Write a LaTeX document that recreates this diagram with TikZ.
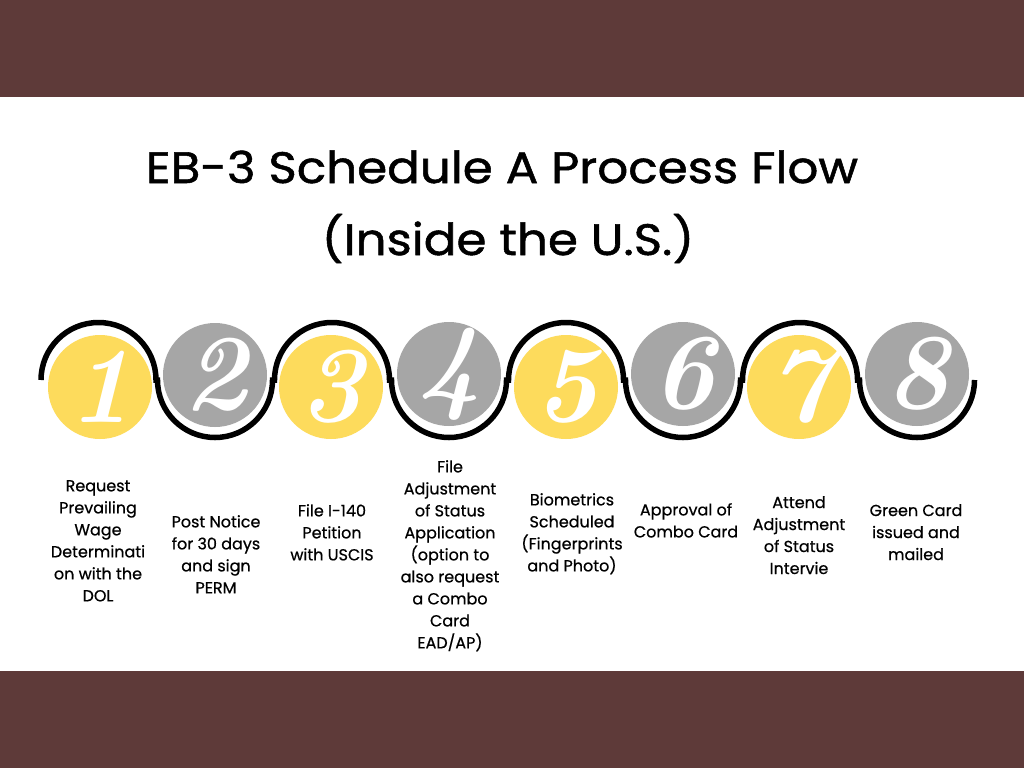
\documentclass[tikz,border=0pt]{standalone}
\usepackage{fontspec}
\setmainfont{Poppins}
\definecolor{band}{RGB}{94,58,57}
\definecolor{yel}{RGB}{253,219,92}
\definecolor{gry}{RGB}{166,166,166}
\newfontfamily\digitfont{Latin Modern Roman}
\newfontfamily\titlefont[FakeStretch=1.1,FakeBold=1.2]{Poppins}
\newfontfamily\descfont[FakeBold=0.6]{Poppins}
\begin{document}
\begin{tikzpicture}[x=1pt,y=-1pt,
  band/.style={fill=band,draw=none},
  yc/.style={circle,fill=yel,minimum size=104pt,inner sep=0pt},
  gc/.style={circle,fill=gry,minimum size=104pt,inner sep=0pt},
  num/.style={text=white,font=\digitfont\fontsize{108}{108}\selectfont\bfseries\itshape},
  wave/.style={line width=5.5pt,black},
  desc/.style={align=center,inner sep=0pt,anchor=north,font=\descfont\fontsize{16}{22}\selectfont},
  ttl/.style={anchor=base,inner sep=0pt,font=\titlefont\fontsize{44}{50}\selectfont}]
\useasboundingbox (0,0) rectangle (1024,768);
\fill[white] (0,0) rectangle (1024,768);
\fill[band] (0,0) rectangle (1024,97);
\fill[band] (0,671) rectangle (1024,768);
\node[ttl] (t1) at (502,183) {EB-3 Schedule A Process Flow};
\node[ttl] (t2) at (508,255) {(Inside the U.S.)};
% wave
\draw[wave] (41,380) arc[start angle=180,end angle=360,radius=57.5]
  -- (157.5,380) arc[start angle=180,end angle=0,radius=57.5]
  -- (274.5,380) arc[start angle=180,end angle=360,radius=57.5]
  -- (391.5,380) arc[start angle=180,end angle=0,radius=57.5]
  -- (508.5,380) arc[start angle=180,end angle=360,radius=57.5]
  -- (625.5,380) arc[start angle=180,end angle=0,radius=57.5]
  -- (742.5,380) arc[start angle=180,end angle=360,radius=57.5]
  -- (859.5,380) arc[start angle=180,end angle=0,radius=57.5];
% circles
\node[yc] (c1) at (100,387) {};
\node[gc] (c2) at (215,375) {};
\node[yc] (c3) at (331,387) {};
\node[gc] (c4) at (449,374) {};
\node[yc] (c5) at (566,387) {};
\node[gc] (c6) at (683,374) {};
\node[yc] (c7) at (799,387) {};
\node[gc] (c8) at (917,374) {};
\foreach \i in {1,...,8} {\node[num] (n\i) at (c\i) {\i};}
% descriptions
\node[desc] (d1) at (98,480) {Request\\Prevailing\\Wage\\Determinati\\on with the\\DOL};
\node[desc] (d2) at (216,515) {Post Notice\\for 30 days\\and sign\\PERM};
\node[desc] (d3) at (332,504) {File I-140\\Petition\\with USCIS};
\node[desc] (d4) at (450,460) {File\\Adjustment\\of Status\\Application\\(option to\\also request\\a Combo\\Card\\EAD/AP)};
\node[desc] (d5) at (572,493) {Biometrics\\Scheduled\\(Fingerprints\\and Photo)};
\node[desc] (d6) at (686,503) {Approval of\\Combo Card};
\node[desc] (d7) at (799,496) {Attend\\Adjustment\\of Status\\Intervie};
\node[desc] (d8) at (916,504) {Green Card\\issued and\\mailed};
\end{tikzpicture}
\end{document}
